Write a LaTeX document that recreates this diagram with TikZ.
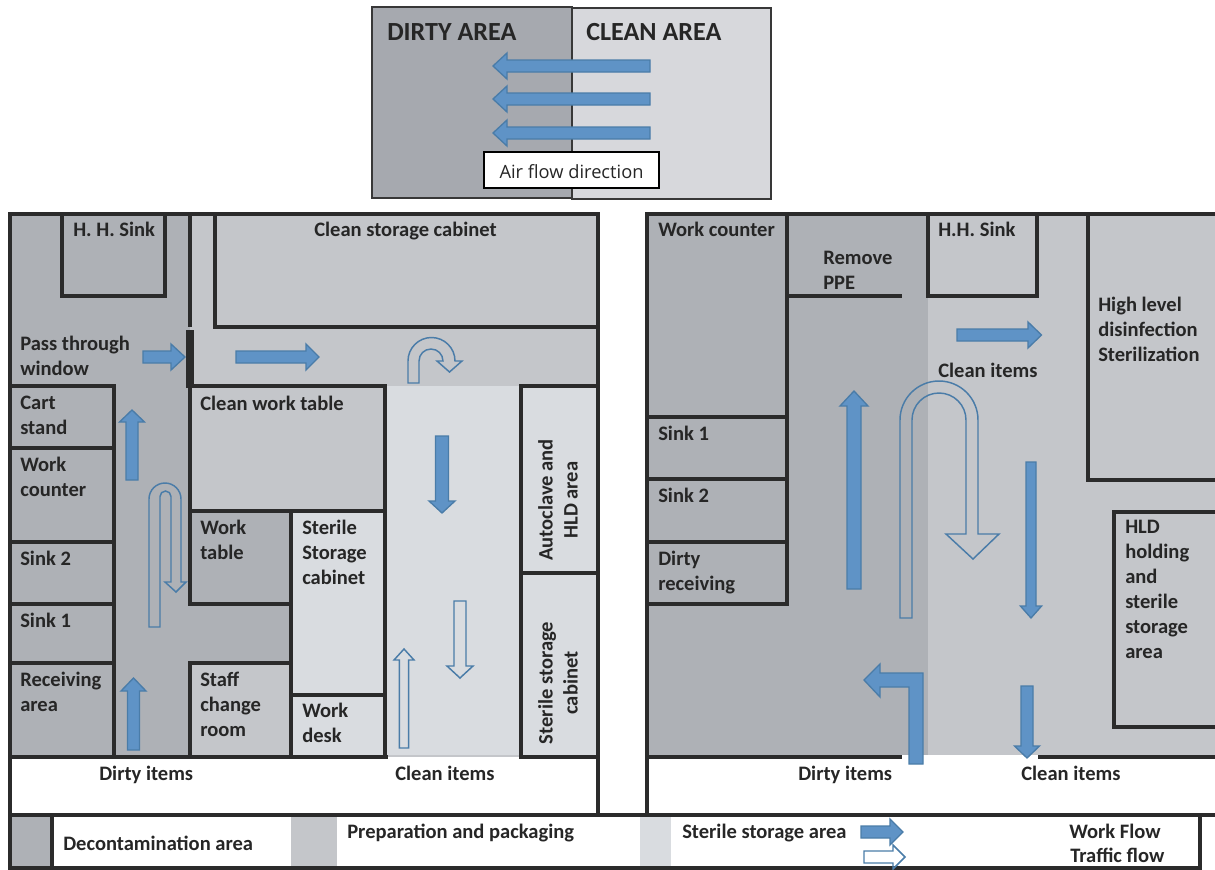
\documentclass[tikz,border=0pt]{standalone}
\usepackage{fontspec}
\setmainfont{Carlito}
\newfontfamily\airfont{Open Sans}
\definecolor{wallc}{HTML}{2B2B2B}
\definecolor{deconc}{HTML}{AEB1B6}
\definecolor{prepc}{HTML}{C4C6CA}
\definecolor{sterilec}{HTML}{D9DCE0}
\definecolor{dirtyc}{HTML}{A6A9AF}
\definecolor{cleanc}{HTML}{D7D8DC}
\definecolor{flowc}{HTML}{5F93C6}
\definecolor{flowedge}{HTML}{4A7CA8}
\tikzstyle{wall} = [draw=wallc, line width=3pt, line cap=rect]
\tikzstyle{workflow} = [fill=flowc, draw=flowedge, line width=1pt, line join=miter]
\tikzstyle{traffic} = [draw=flowedge, line width=1.1pt, line join=miter]
\tikzstyle{room} = [anchor=north west, inner sep=0pt, align=left, yshift=-1.1pt, text=black!85, font=\fontsize{15.4}{18.75}\selectfont\bfseries]
\tikzstyle{sideroom} = [inner sep=0pt, align=center, rotate=90, text=black!85, font=\fontsize{15.4}{18.75}\selectfont\bfseries]
\tikzstyle{areatitle} = [anchor=north west, inner sep=0pt, text=black!85, font=\fontsize{19.6}{22}\selectfont\bfseries]
% tail x,y / angle / length / half shaft / half head / head length
\newcommand{\flowarrow}[8][workflow]{
\draw[#1, shift={(#2,#3)}, rotate=#4] (0,#6) -- ({#5-#8},#6) -- ({#5-#8},#7) -- (#5,0) -- ({#5-#8},-#7) -- ({#5-#8},-#6) -- (0,-#6) -- cycle;
}
\begin{document}
\begin{tikzpicture}[x=0.75pt,y=-0.75pt]
\useasboundingbox (0,0) rectangle (1215,869);

% air flow panel
\fill[dirtyc] (372,7) rectangle (572,198);
\fill[cleanc] (572,8) rectangle (771,199);
\draw[draw=black!78, line width=2.2pt] (372,7) rectangle (572,198);
\draw[draw=black!78, line width=2.2pt] (572,8) rectangle (771,199);
\node (dirtyT) [areatitle] at (387,23) {DIRTY AREA};
\node (cleanT) [areatitle] at (586,23) {CLEAN AREA};
\flowarrow{650}{66}{180}{157}{6}{13}{14}
\flowarrow{650}{99}{180}{157}{6}{13}{14}
\flowarrow{650}{133}{180}{157}{6}{13}{14}
\node (airN) [draw=black, fill=white, line width=1.4pt, minimum width=131pt, minimum height=27pt, inner sep=0pt, text=black!85, font=\airfont\fontsize{13.7}{15}\selectfont] at (571.5,170) {\raisebox{-6.7pt}[0pt][0pt]{Air flow direction}};

% floor fills, left plan
\fill[prepc] (10,214) rectangle (598,757);
\fill[deconc] (10,214) rectangle (190,757);
\fill[deconc] (190,511) rectangle (291,663);
\fill[prepc] (190,663) rectangle (291,757);
\fill[sterilec] (385,386) rectangle (521,755);
\fill[sterilec] (291,511) rectangle (385,757);
\fill[sterilec] (521,386) rectangle (598,757);
% floor fills, right plan
\fill[deconc] (647,214) rectangle (928,755);
\fill[prepc] (928,214) rectangle (1215,755);
% legend swatches
\fill[deconc] (10,815) rectangle (52,868);
\fill[prepc] (291,815) rectangle (337,868);
\fill[sterilec] (640,815) rectangle (671,868);

% walls, left plan
\draw[wall] (10,868) -- (10,214) -- (598,214) -- (598,815);
\draw[wall] (62,214) -- (62,296) -- (165,296) -- (165,214);
\draw[wall] (190,214) -- (190,325);
\draw[wall, line width=6pt, line cap=butt] (190,330) -- (190,388);
\draw[wall] (215,214) -- (215,327) -- (598,327);
\draw[wall] (10,386) -- (114,386) -- (114,757);
\draw[wall] (10,448) -- (114,448);
\draw[wall] (10,542) -- (114,542);
\draw[wall] (10,604) -- (114,604);
\draw[wall] (10,663) -- (114,663);
\draw[wall] (190,386) -- (385,386) -- (385,757);
\draw[wall] (190,386) -- (190,604) -- (291,604);
\draw[wall] (190,511) -- (385,511);
\draw[wall] (291,511) -- (291,757);
\draw[wall] (291,695) -- (385,695);
\draw[wall] (190,757) -- (190,663) -- (291,663);
\draw[wall] (521,757) -- (521,386) -- (598,386);
\draw[wall] (521,573) -- (598,573);
\draw[wall] (10,757) -- (386,757);
\draw[wall] (521,757) -- (598,757);

% walls, right plan
\draw[wall] (647,815) -- (647,214) -- (1215,214);
\draw[wall] (787,214) -- (787,604) -- (647,604);
\draw[wall] (647,417) -- (787,417);
\draw[wall] (647,479) -- (787,479);
\draw[wall] (647,542) -- (787,542);
\draw[wall, line cap=butt] (787,296) -- (902,296);
\draw[wall] (928,214) -- (928,296) -- (1037,296) -- (1037,214);
\draw[wall] (1215,480) -- (1088,480) -- (1088,214);
\draw[wall] (1215,512) -- (1114,512) -- (1114,727) -- (1215,727);
\draw[wall, line cap=butt] (647,757) -- (902,757);
\draw[wall, line cap=butt] (1038,757) -- (1215,757);

% legend frame
\draw[wall] (10,815) -- (1215,815);
\draw[wall] (10,868) -- (1200,868) -- (1200,815);
\draw[wall] (52,815) -- (52,868);

% work flow, left plan
\flowarrow{143}{357}{0}{42}{6}{13}{14}
\flowarrow{236}{357}{0}{83}{6}{13}{13}
\flowarrow{442}{436}{270}{77}{6.5}{13}{12}
\flowarrow{132}{480}{90}{70}{6}{12.5}{12}
\flowarrow{133.5}{750}{90}{72}{6}{12.5}{13}
% traffic flow, left plan
\flowarrow[traffic]{404}{748}{90}{99}{4.7}{10}{11}
\flowarrow[traffic]{460}{601}{270}{77}{6}{13}{12}
\draw[traffic] (408,383) -- (408,361) arc[start angle=180, end angle=360, radius=23.5] -- (462,361) -- (449.5,372) -- (437,361) -- (443,361) arc[start angle=360, end angle=180, radius=12] -- (419,383) -- cycle;
\draw[traffic] (149,627) -- (149,499) arc[start angle=180, end angle=360, radius=16] -- (181,582) -- (186,582) -- (176,592) -- (165,582) -- (171,582) -- (171,496.5) arc[start angle=360, end angle=180, radius=5.5] -- (160,627) -- cycle;

% work flow, right plan
\flowarrow{957}{335}{0}{84.5}{6}{13}{13.5}
\flowarrow{854}{589}{90}{198}{7}{14}{15}
\flowarrow{1031}{462}{270}{156}{5}{10.6}{12}
\flowarrow{1027}{686}{270}{72}{6}{12.5}{12}
\draw[workflow] (923,764) -- (923,673) -- (880,673) -- (880,664) -- (864,680) -- (880,697) -- (880,687) -- (909,687) -- (909,764) -- cycle;
% traffic flow, right plan
\draw[traffic] (900,618) -- (900,420) arc[start angle=180, end angle=360, radius=39] -- (978,534) -- (999,534) -- (973,559) -- (946,534) -- (966,534) -- (966,420) arc[start angle=360, end angle=180, radius=27] -- (912,618) -- cycle;

% legend arrows
\flowarrow{861}{832}{0}{42}{6}{13}{13}
\flowarrow[traffic]{864}{857}{0}{41}{6}{12}{12}

% labels, left plan
\node (hhsL) [room] at (73,220) {H. H. Sink};
\node (cscab) [room] at (314,220) {Clean storage cabinet};
\node (pass) [room] at (20,334) {Pass through\\window};
\node (cart) [room] at (20,394) {Cart\\stand};
\node (wcL) [room] at (20,455) {Work\\counter};
\node (cwt) [room] at (200,394) {Clean work table};
\node (wtab) [room] at (200,518) {Work\\table};
\node (sscab) [room] at (302,518) {Sterile\\Storage\\cabinet};
\node (sk2L) [room] at (20,549) {Sink 2};
\node (sk1L) [room] at (20,611) {Sink 1};
\node (recv) [room] at (20,670) {Receiving\\area};
\node (staff) [room] at (200,670) {Staff\\change\\room};
\node (wdesk) [room] at (302,701) {Work\\desk};
\node (dirtyL) [room] at (99,764) {Dirty items};
\node (cleanL) [room] at (395,764) {Clean items};
\node (auto) [sideroom] at (558,500) {Autoclave and\\HLD area};
\node (stcab) [sideroom] at (558,683) {Sterile storage\\cabinet};

% labels, right plan
\node (wcR) [room] at (658,220) {Work counter};
\node (ppe) [room] at (823,249) {Remove\\PPE};
\node (hhsR) [room] at (938,220) {H.H. Sink};
\node (hld) [room] at (1098,295) {High level\\disinfection\\Sterilization};
\node (cleanM) [room] at (938,361) {Clean items};
\node (sk1R) [room] at (658,424) {Sink 1};
\node (sk2R) [room] at (658,486) {Sink 2};
\node (drecv) [room] at (658,549) {Dirty\\receiving};
\node (hldh) [room] at (1125,518) {HLD\\holding\\and\\sterile\\storage\\area};
\node (dirtyR) [room] at (798,764) {Dirty items};
\node (cleanR) [room] at (1021,764) {Clean items};

% legend labels
\node (lgdec) [room] at (63,834) {Decontamination area};
\node (lgprep) [room] at (347,822) {Preparation and packaging};
\node (lgster) [room] at (682,822) {Sterile storage area};
\node (lgwork) [room] at (1069,822) {Work Flow};
\node (lgtraf) [room] at (1070,846) {Traffic flow};
\end{tikzpicture}
\end{document}
